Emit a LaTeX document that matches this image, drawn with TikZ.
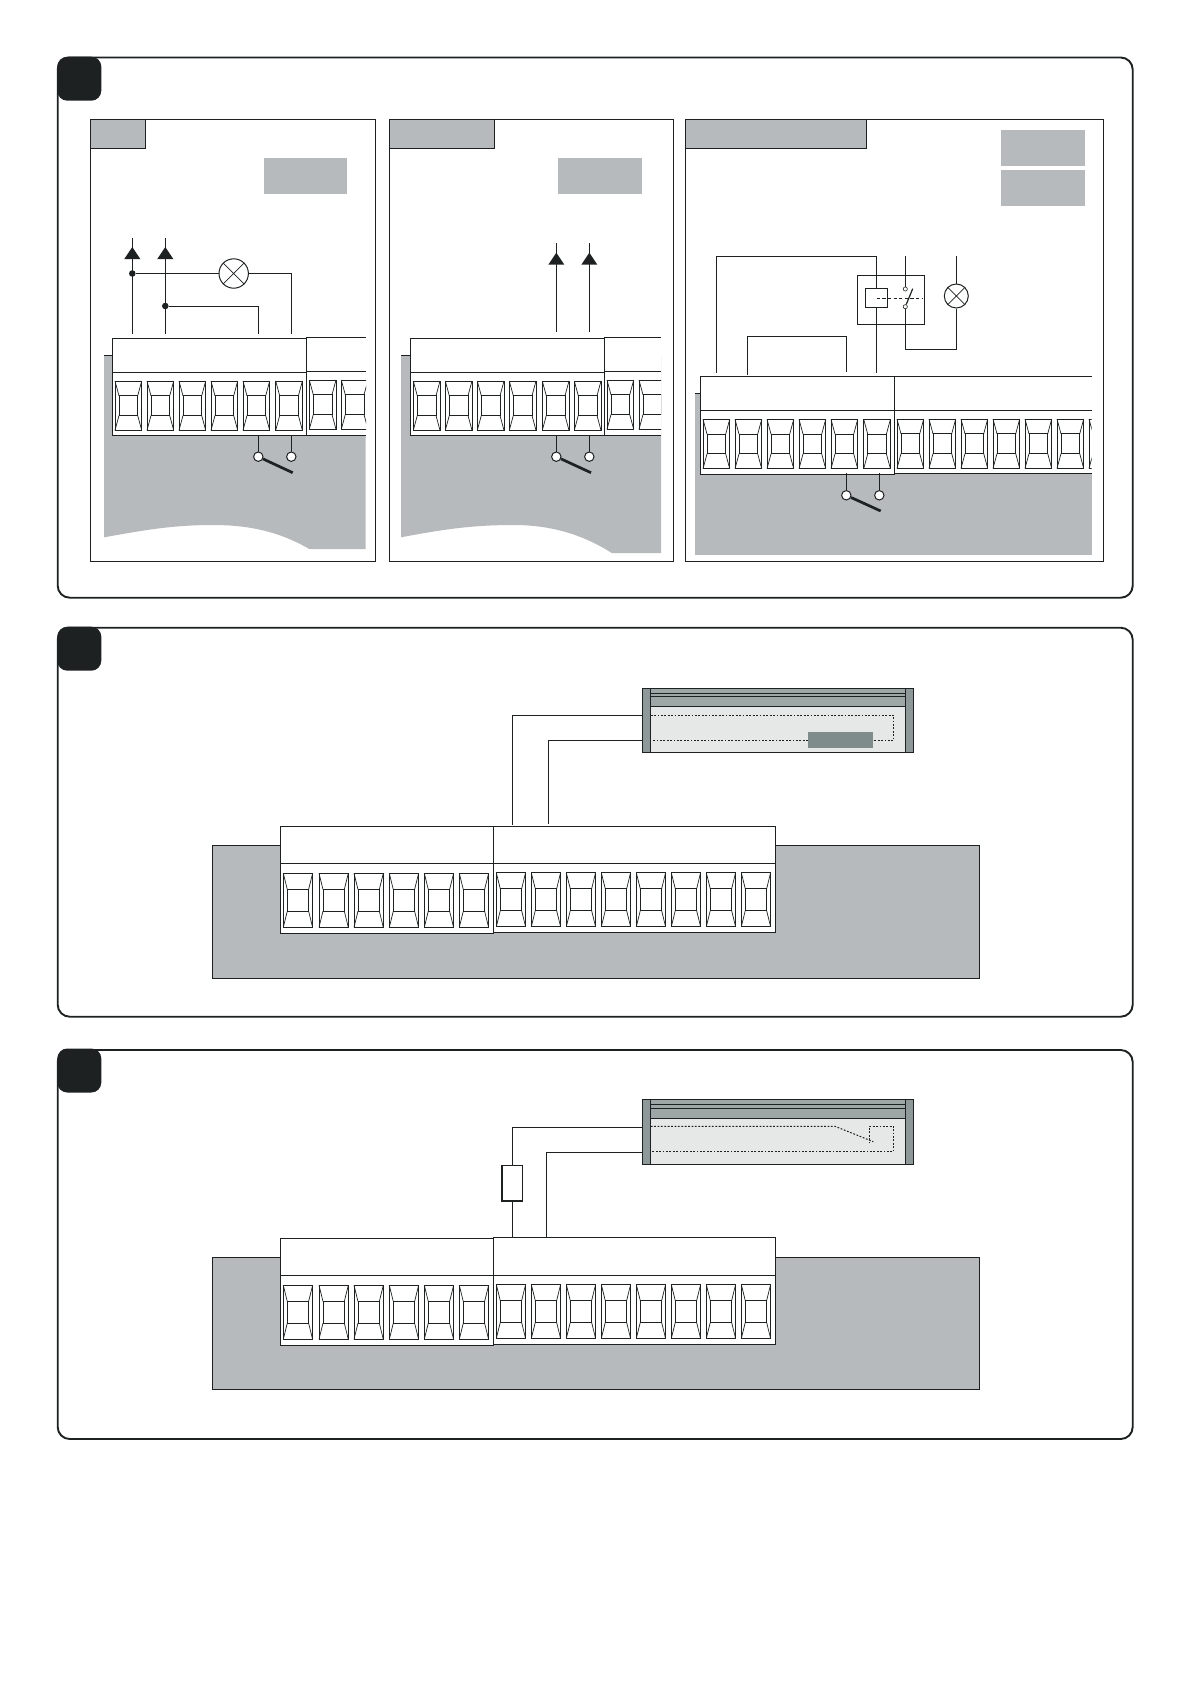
\documentclass[tikz,border=0pt]{standalone}
\usepackage{xcolor}
\usetikzlibrary{calc}
\definecolor{inkblack}{HTML}{1D2122}
\definecolor{paneltone}{HTML}{B7BABC}
\definecolor{barband}{HTML}{9EA6A6}
\definecolor{barcap}{HTML}{8F9898}
\definecolor{barbody}{HTML}{E6E7E7}
\definecolor{barmark}{HTML}{7F8C8C}
\tikzset{
	wire/.style={draw=inkblack, line width=1pt},
	outerframe/.style={draw=inkblack, line width=1.9pt, rounded corners=12pt},
	badge/.style={fill=inkblack, rounded corners=10pt},
	boardedge/.style={wire, fill=paneltone},
	tone/.style={fill=paneltone},
	tab/.style={wire, fill=paneltone},
	dot/.style={circle, fill=inkblack, inner sep=0pt, minimum size=6.6pt},
	pole/.style={circle, wire, fill=white, inner sep=0pt, minimum size=9.4pt},
	smallpole/.style={circle, draw=inkblack, line width=0.6pt, fill=white, inner sep=0pt, minimum size=4.2pt},
	lamp/.style={circle, wire, fill=white, inner sep=0pt},
	lever/.style={draw=inkblack, line width=2.7pt},
	dotted line/.style={draw=inkblack, line width=1pt, dash pattern=on 1.8pt off 1.6pt}
}
% one terminal: x, y, width, height
\newcommand{\termcell}[4]{
	\draw[wire, fill=white] (#1,#2) rectangle (#1+#3,#2+#4);
	\draw[wire] (#1+4,#2+0.30*#4) rectangle (#1+#3-4,#2+0.70*#4);
	\draw[wire, line width=0.7pt] (#1,#2) -- (#1+4,#2+0.30*#4) (#1+#3,#2) -- (#1+#3-4,#2+0.30*#4)
		(#1,#2+#4) -- (#1+4,#2+0.70*#4) (#1+#3,#2+#4) -- (#1+#3-4,#2+0.70*#4);
}
% plug body: left, right, top, divider, bottom
\newcommand{\plugbody}[5]{
	\draw[wire, fill=white] (#1,#3) rectangle (#2,#5);
	\draw[wire] (#1,#4) -- (#2,#4);
}
% plug body running off to the right
\newcommand{\plugopen}[5]{
	\fill[white] (#1,#3) rectangle (#2,#5);
	\draw[wire] (#2,#3) -- (#1,#3) -- (#1,#5) -- (#2,#5) (#1,#4) -- (#2,#4);
}
% wire with filled tip: x, y of the apex
\newcommand{\wiretip}[2]{
	\fill[inkblack] (#1-8,#2+12) -- (#1,#2) -- (#1+8,#2+12) -- cycle;
}
% sensor bar: top, two lines, band end, bottom
\newcommand{\sensorbar}[5]{
	\fill[barbody] (642.3,#1) rectangle (913.7,#5);
	\fill[barband] (642.3,#1) rectangle (913.7,#4);
	\fill[barcap] (642.3,#1) rectangle (650.7,#5) (905.3,#1) rectangle (913.7,#5);
	\draw[wire] (642.3,#1) rectangle (913.7,#5);
	\draw[wire] (650.7,#1) -- (650.7,#5) (905.3,#1) -- (905.3,#5);
	\draw[wire] (650.7,#2) -- (905.3,#2) (650.7,#3) -- (905.3,#3) (650.7,#4) -- (905.3,#4);
}
\begin{document}
\begin{tikzpicture}[x=1pt, y=-1pt]
	\useasboundingbox (0,0) rectangle (1191,1684);
	\fill[white] (0,0) rectangle (1191,1684);

	% frames
	\draw[outerframe] (57.7,57.5) rectangle (1132.7,597.7);
	\draw[outerframe] (57.7,627.7) rectangle (1132.7,1016.7);
	\draw[outerframe] (57.7,1050) rectangle (1132.7,1439);
	\fill[badge] (57.3,56.7) rectangle (101.3,100.7);
	\fill[badge] (57.3,626.7) rectangle (101.3,670.7);
	\fill[badge] (57.3,1048.5) rectangle (101.3,1092.5);

	% panel A
	\draw[wire] (90.5,119.5) rectangle (375,561);
	\draw[tab] (90.5,119.5) rectangle (145.5,148);
	\fill[tone] (264,158) rectangle (347,193.7);
	\fill[tone] (104,355) -- (365.7,355) -- (365.7,549) -- (309.3,549)
		.. controls (280,532) and (250,525) .. (213,525)
		.. controls (170,525) and (140,531) .. (104,537.3) -- cycle;
	\draw[wire] (104,355) -- (112.3,355);
	\plugbody{112.3}{306.7}{338.3}{372.3}{435.3}
	\plugopen{306.7}{366}{337}{371.3}{435}
	\foreach \xcell in {115,147,179,211,243,275.7}{
		\termcell{\xcell}{381}{26.7}{49.3}
	}
	\begin{scope}
		\clip (306,330) rectangle (366,440);
		\foreach \xcell in {309.3,341.3}{
			\termcell{\xcell}{380}{26.7}{49.3}
		}
	\end{scope}
	\coordinate (topA1) at (132.3,238);
	\coordinate (topA2) at (165.3,238);
	\coordinate (endA1) at (132.3,333.7);
	\coordinate (endA2) at (165.3,333.7);
	\coordinate (endA3) at (258.3,333.7);
	\coordinate (endA4) at (291.3,333.7);
	\node[dot] (nodeA1) at (132.3,273.5) {};
	\node[dot] (nodeA2) at (165.3,306) {};
	\node[lamp, minimum size=29.4pt] (lampA) at (233.7,273.5) {};
	\draw[wire] (topA1) -- (endA1);
	\draw[wire] (topA2) -- (endA2);
	\draw[wire] (nodeA1) -- (lampA);
	\draw[wire] (lampA) -| (endA4);
	\draw[wire] (nodeA2) -| (endA3);
	\draw[wire, line width=0.7pt] (lampA.north east) -- (lampA.south west) (lampA.north west) -- (lampA.south east);
	\wiretip{132.3}{247}
	\wiretip{165.3}{247}
	\coordinate (plugA1) at (258.3,435.3);
	\coordinate (plugA2) at (291.3,435.3);
	\node[pole] (poleA1) at (258.3,456.7) {};
	\node[pole] (poleA2) at (291.3,456.7) {};
	\coordinate (leverA) at (292.7,472.7);
	\draw[wire] (plugA1) -- (poleA1);
	\draw[wire] (plugA2) -- (poleA2);
	\draw[lever] (poleA1) -- (leverA);

	% panel B
	\draw[wire] (389.3,119.3) rectangle (673.7,561.3);
	\draw[tab] (389.3,119.3) rectangle (494.7,148.3);
	\fill[tone] (558,158) rectangle (642,193.7);
	\fill[tone] (401,355.3) -- (661,355.3) -- (661,553) -- (611.7,553)
		.. controls (582,534) and (550,525) .. (513.3,525)
		.. controls (470,525) and (440,530) .. (401,537.3) -- cycle;
	\draw[wire] (401,355.3) -- (410.3,355.3);
	\plugbody{410.3}{604.3}{338.3}{372.3}{435.3}
	\plugopen{604.3}{661}{337}{371.3}{435}
	\foreach \xcell in {413.3,445.3,477.3,509.3,542.3,574.3}{
		\termcell{\xcell}{381}{26.7}{49.3}
	}
	\begin{scope}
		\clip (604,330) rectangle (661,440);
		\foreach \xcell in {607,639}{
			\termcell{\xcell}{380}{26.7}{49.3}
		}
	\end{scope}
	\coordinate (topB1) at (556.3,243);
	\coordinate (topB2) at (589.3,243);
	\coordinate (endB1) at (556.3,331.7);
	\coordinate (endB2) at (589.3,331.7);
	\draw[wire] (topB1) -- (endB1);
	\draw[wire] (topB2) -- (endB2);
	\wiretip{556.3}{252.7}
	\wiretip{589.3}{252.7}
	\coordinate (plugB1) at (556.3,435.3);
	\coordinate (plugB2) at (589.3,435.3);
	\node[pole] (poleB1) at (556.3,456.7) {};
	\node[pole] (poleB2) at (589.3,456.7) {};
	\coordinate (leverB) at (591,472.7);
	\draw[wire] (plugB1) -- (poleB1);
	\draw[wire] (plugB2) -- (poleB2);
	\draw[lever] (poleB1) -- (leverB);

	% panel C
	\draw[wire] (685.3,119.3) rectangle (1103.7,561.7);
	\draw[tab] (685.3,119.3) rectangle (866.7,148.3);
	\fill[tone] (1001,130) rectangle (1085,166);
	\fill[tone] (1001,170) rectangle (1085,206);
	\fill[tone] (695,393.3) rectangle (1091.7,554.7);
	\draw[wire] (695,393.3) -- (700.3,393.3);
	\plugbody{700.3}{894.3}{376.3}{410.3}{474.3}
	\plugopen{894.3}{1091.7}{376.3}{410.3}{473.3}
	\foreach \xcell in {703,735,767,799,831,863.7}{
		\termcell{\xcell}{419.3}{26.7}{49.4}
	}
	\begin{scope}
		\clip (894,410) rectangle (1091.7,475);
		\foreach \xcell in {897,929,961,993,1025,1057,1089}{
			\termcell{\xcell}{419}{26.7}{49.4}
		}
	\end{scope}
	\coordinate (endC1) at (716.3,372.7);
	\coordinate (cornerC1) at (876.7,256.3);
	\coordinate (endC2) at (876.7,372.7);
	\coordinate (endC3) at (747.7,375);
	\coordinate (cornerC3) at (846.3,336.7);
	\coordinate (endC4) at (846.3,371.7);
	\coordinate (topC5) at (905.3,256.3);
	\coordinate (loopC) at (905.3,349.3);
	\coordinate (topC6) at (956.3,256.3);
	\draw[wire] (endC1) |- (cornerC1) -- (endC2);
	\draw[wire] (endC3) |- (cornerC3) -- (endC4);
	\node[wire, draw, minimum width=67pt, minimum height=49pt, inner sep=0pt] (relayC) at (890.8,299.8) {};
	\node[wire, draw, fill=white, minimum width=22.4pt, minimum height=19pt, inner sep=0pt] (coilC) at (876.5,297.8) {};
	\node[smallpole] (contactC1) at (905.3,289) {};
	\node[smallpole] (contactC2) at (905.3,306.7) {};
	\node[lamp, minimum size=24pt] (lampC) at (956.3,296) {};
	\coordinate (dashC1) at (876.7,298.3);
	\coordinate (dashC2) at (921.7,298.3);
	\coordinate (leverC) at (912.7,288.7);
	\draw[wire] (topC5) -- (contactC1);
	\draw[wire] (contactC2) -- (loopC) -| (lampC);
	\draw[wire] (topC6) -- (lampC);
	\draw[wire, line width=0.7pt] (lampC.north east) -- (lampC.south west) (lampC.north west) -- (lampC.south east);
	\draw[wire, dash pattern=on 3.2pt off 2.4pt] (dashC1) -- (dashC2);
	\draw[wire, line width=1.2pt] (contactC2) -- (leverC);
	\coordinate (plugC1) at (846.3,473.3);
	\coordinate (plugC2) at (879.3,473.3);
	\node[pole] (poleC1) at (846.3,495.3) {};
	\node[pole] (poleC2) at (879.3,495.3) {};
	\coordinate (leverD) at (880.7,511);
	\draw[wire] (plugC1) -- (poleC1);
	\draw[wire] (plugC2) -- (poleC2);
	\draw[lever] (poleC1) -- (leverD);

	% second frame
	\draw[boardedge] (212.3,845) rectangle (979.7,978.3);
	\plugbody{280.3}{493.3}{826.3}{863.3}{933.3}
	\plugbody{493.3}{775.7}{826.3}{863.3}{932.8}
	\foreach \xcell in {283.3,319,354,389.3,424.3,459.3}{
		\termcell{\xcell}{873.3}{29.3}{54}
	}
	\foreach \xcell in {496.3,531.3,566.3,601.3,636.3,671.3,706.3,741.3}{
		\termcell{\xcell}{872.7}{29.3}{54}
	}
	\sensorbar{688.3}{693.3}{696.3}{706.3}{752.3}
	\fill[barmark] (808,732) rectangle (872.7,747.7);
	\coordinate (innerS1) at (650.7,715.3);
	\coordinate (innerS2) at (893.7,715.3);
	\coordinate (innerS3) at (893.7,740.3);
	\coordinate (innerS4) at (872.7,740.3);
	\coordinate (innerS5) at (808,740.3);
	\coordinate (innerS6) at (652.3,740.3);
	\draw[dotted line] (innerS1) -- (innerS2) -- (innerS3) -- (innerS4);
	\draw[dotted line] (innerS5) -- (innerS6);
	\coordinate (barS1) at (642.3,715.3);
	\coordinate (barS2) at (642.3,740.3);
	\coordinate (endS1) at (512.3,824.7);
	\coordinate (endS2) at (548.3,823.7);
	\draw[wire] (barS1) -| (endS1);
	\draw[wire] (barS2) -| (endS2);

	% third frame
	\draw[boardedge] (212.3,1257.3) rectangle (979.7,1389.3);
	\plugbody{280.3}{493.3}{1238.3}{1275.3}{1345.3}
	\plugbody{493.3}{775.7}{1237.3}{1275.3}{1344.3}
	\foreach \xcell in {283.3,319,354,389.3,424.3,459.3}{
		\termcell{\xcell}{1285.3}{29.3}{54}
	}
	\foreach \xcell in {496.3,531.3,566.3,601.3,636.3,671.3,706.3,741.3}{
		\termcell{\xcell}{1284.5}{29.3}{54}
	}
	\sensorbar{1099.3}{1104.3}{1108}{1118.3}{1164.3}
	\coordinate (innerT1) at (650.7,1126.3);
	\coordinate (innerT2) at (835,1126.3);
	\coordinate (innerT3) at (873.3,1141.7);
	\coordinate (innerT4) at (869.3,1143.3);
	\coordinate (innerT5) at (869.3,1126.3);
	\coordinate (innerT6) at (893.7,1126.3);
	\coordinate (innerT7) at (893.7,1151.3);
	\coordinate (innerT8) at (652.3,1151.3);
	\draw[dotted line] (innerT1) -- (innerT2) -- (innerT3);
	\draw[dotted line] (innerT4) -- (innerT5) -- (innerT6) -- (innerT7) -- (innerT8);
	\coordinate (barT1) at (642.3,1127.3);
	\coordinate (barT2) at (642.3,1152);
	\coordinate (endT1) at (512,1237.3);
	\coordinate (endT2) at (546.3,1237.3);
	\node[draw=inkblack, line width=1.6pt, fill=white, minimum width=20.6pt, minimum height=35.3pt, inner sep=0pt] (resistorT) at (512,1183.3) {};
	\draw[wire] (barT1) -| (resistorT);
	\draw[wire] (resistorT) -- (endT1);
	\draw[wire] (barT2) -| (endT2);
\end{tikzpicture}
\end{document}
